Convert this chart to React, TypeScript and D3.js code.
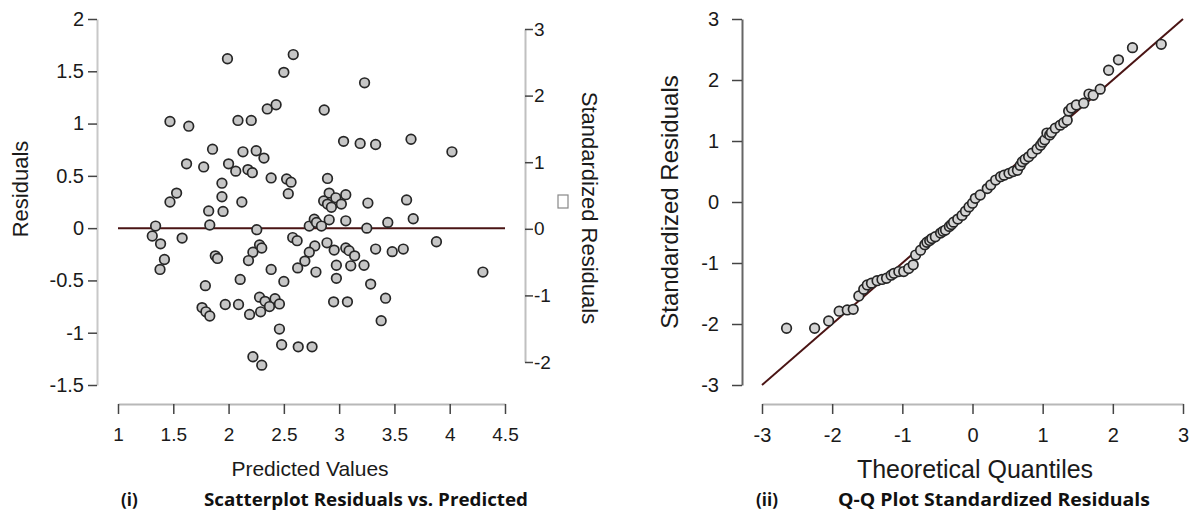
import React, { useEffect, useRef } from 'react';
import * as d3 from 'd3';

// (i) residuals vs predicted
const predicted = [
  1.99, 2.585, 2.5, 1.47, 1.64, 2.085, 2.205, 2.35, 2.43, 1.855, 2.13, 2.25, 2.32, 1.62, 1.775,
  2.0, 2.065, 2.175, 2.215, 2.385, 2.525, 2.565, 1.94, 1.53, 2.54, 1.47, 1.94, 2.12,
  3.23, 2.865, 3.04, 3.19, 3.33, 3.65, 4.02, 2.895,
  1.82, 1.95, 1.34, 1.83, 2.255, 2.73, 2.775, 2.795, 1.31, 1.385, 1.58, 2.58, 2.62, 2.28, 2.3,
  2.22, 2.18, 1.42, 1.38, 1.88, 1.9, 2.78, 2.73, 2.69, 2.625, 2.79, 2.385, 2.105, 2.5, 1.79,
  2.28, 2.33, 2.42, 2.37, 2.46, 2.29, 2.19, 1.97, 2.09, 1.76, 1.795, 1.83, 2.46, 2.48, 2.63,
  2.755, 2.22, 2.3,
  2.91, 3.06, 2.86, 2.895, 2.93, 2.97, 3.02, 3.26, 3.61, 3.67, 3.44, 3.25, 3.06, 2.91, 2.84,
  3.88, 2.89, 2.955, 3.06, 3.09, 3.14, 3.33, 3.48, 3.58, 2.975, 3.105, 3.225, 2.975, 3.285,
  2.95, 3.075, 3.42, 3.38, 4.3,
];
const residuals = [
  1.62, 1.66, 1.49, 1.02, 0.975, 1.03, 1.03, 1.14, 1.18, 0.755, 0.73, 0.74, 0.67, 0.615, 0.585,
  0.615, 0.545, 0.56, 0.53, 0.48, 0.47, 0.44, 0.43, 0.335, 0.33, 0.25, 0.3, 0.25,
  1.39, 1.13, 0.83, 0.81, 0.8, 0.85, 0.73, 0.475,
  0.165, 0.16, 0.02, 0.03, -0.015, 0.02, 0.085, 0.055, -0.075, -0.15, -0.095, -0.09, -0.12,
  -0.16, -0.19, -0.23, -0.31, -0.3, -0.395, -0.265, -0.29, -0.17, -0.23, -0.315, -0.38, -0.42,
  -0.395, -0.49, -0.51, -0.55, -0.66, -0.7, -0.675, -0.75, -0.725, -0.8, -0.825, -0.73, -0.73,
  -0.76, -0.8, -0.84, -0.965, -1.115, -1.135, -1.135, -1.23, -1.31,
  0.335, 0.32, 0.26, 0.23, 0.2, 0.29, 0.23, 0.24, 0.27, 0.09, 0.055, 0.0, 0.07, 0.08, 0.02,
  -0.13, -0.14, -0.21, -0.19, -0.215, -0.265, -0.2, -0.225, -0.2, -0.355, -0.36, -0.355, -0.48,
  -0.535, -0.705, -0.705, -0.67, -0.885, -0.42,
];

// (ii) q-q plot
const theoretical = [
  -2.65, -2.25, -2.05, -1.9, -1.785, -1.7, -1.62, -1.55, -1.5, -1.44, -1.36, -1.29, -1.225,
  -1.16, -1.12, -1.05, -0.98, -0.91, -0.845, -0.81, -0.74, -0.68, -0.65, -0.61, -0.58, -0.53,
  -0.455, -0.42, -0.385, -0.33, -0.3, -0.27, -0.21, -0.15, -0.1, -0.05, 0.0, 0.04, 0.11, 0.21,
  0.26, 0.33, 0.4, 0.45, 0.52, 0.58, 0.64, 0.68, 0.71, 0.75, 0.8, 0.85, 0.92, 0.97, 1.0, 1.03,
  1.06, 1.1, 1.125, 1.18, 1.25, 1.3, 1.35, 1.37, 1.41, 1.48, 1.585, 1.66, 1.72, 1.82, 1.94,
  2.08, 2.28, 2.69,
];
const stdResiduals = [
  -2.07, -2.07, -1.95, -1.79, -1.77, -1.76, -1.54, -1.43, -1.36, -1.33, -1.29, -1.27, -1.25,
  -1.2, -1.17, -1.14, -1.14, -1.09, -1.03, -0.87, -0.79, -0.7, -0.66, -0.63, -0.6, -0.57,
  -0.51, -0.48, -0.46, -0.4, -0.37, -0.33, -0.28, -0.22, -0.15, -0.08, -0.02, 0.06, 0.115, 0.22,
  0.28, 0.36, 0.415, 0.44, 0.47, 0.5, 0.52, 0.6, 0.66, 0.7, 0.74, 0.8, 0.87, 0.93, 0.98, 1.02,
  1.13, 1.1, 1.14, 1.21, 1.26, 1.3, 1.34, 1.49, 1.54, 1.59, 1.62, 1.77, 1.75, 1.85, 2.16,
  2.33, 2.53, 2.585,
];

const residTicks = [-1.5, -1, -0.5, 0, 0.5, 1, 1.5, 2];
const stdTicks = [-2, -1, 0, 1, 2, 3];
const predTicks = [1, 1.5, 2, 2.5, 3, 3.5, 4, 4.5];
const qqTicks = [-3, -2, -1, 0, 1, 2, 3];

const FONT = 'Liberation Sans, Arial, sans-serif';

export default function App() {
  const ref = useRef<SVGSVGElement>(null);

  useEffect(() => {
    const svg = d3.select(ref.current);
    svg.selectAll('*').remove();

    const styleAxis = (g: any, lineColor: string, fontSize: number) => {
      g.select('.domain').attr('stroke', lineColor).attr('stroke-width', 2);
      g.selectAll('.tick line').attr('stroke', '#444').attr('stroke-width', 1.5);
      g.selectAll('.tick text')
        .attr('fill', '#1a1a1a')
        .style('font-family', FONT)
        .style('font-size', fontSize + 'px');
    };
    const fmt = (d: any) => String(d);

    // ---------- left: residuals vs predicted ----------
    const x = d3.scaleLinear().domain([1, 4.5]).range([118, 505]);
    const y = d3.scaleLinear().domain([-1.5, 2]).range([385, 19]);
    const ys = d3.scaleLinear().domain([-2, 3]).range([362, 29]);

    svg.append('g')
      .attr('transform', 'translate(97,0)')
      .call(d3.axisLeft(y).tickValues(residTicks).tickSize(9).tickSizeOuter(0).tickPadding(4).tickFormat(fmt))
      .call(g => styleAxis(g, '#c8c8c8', 20));

    svg.append('g')
      .attr('transform', 'translate(0,404)')
      .call(d3.axisBottom(x).tickValues(predTicks).tickSize(10).tickSizeOuter(0).tickPadding(14).tickFormat(fmt))
      .call(g => styleAxis(g, '#b8b8b8', 19));

    svg.append('g')
      .attr('transform', 'translate(525,0)')
      .call(d3.axisRight(ys).tickValues(stdTicks).tickSize(8).tickSizeOuter(0).tickPadding(1).tickFormat(fmt))
      .call(g => styleAxis(g, '#c0c0c0', 19));

    svg.append('line')
      .attr('x1', x(1)).attr('x2', x(4.5))
      .attr('y1', y(0)).attr('y2', y(0))
      .attr('stroke', '#4a1414').attr('stroke-width', 2);

    svg.append('g')
      .selectAll('circle')
      .data(predicted.map((p, i) => [p, residuals[i]]))
      .join('circle')
      .attr('cx', d => x(d[0]))
      .attr('cy', d => y(d[1]))
      .attr('r', 4.8)
      .attr('fill', '#c6c6c6')
      .attr('stroke', '#262626')
      .attr('stroke-width', 1.7);

    svg.append('text')
      .attr('transform', 'translate(20,189) rotate(-90)')
      .attr('text-anchor', 'middle').attr('dominant-baseline', 'central')
      .style('font-family', FONT).style('font-size', '22px').attr('fill', '#1a1a1a')
      .text('Residuals');

    svg.append('text')
      .attr('transform', 'translate(589,208) rotate(90)')
      .attr('text-anchor', 'middle').attr('dominant-baseline', 'central')
      .style('font-family', FONT).style('font-size', '22px').attr('fill', '#1a1a1a')
      .text('Standardized Residuals');

    svg.append('rect')
      .attr('x', 558).attr('y', 195).attr('width', 10).attr('height', 13)
      .attr('fill', 'none').attr('stroke', '#888').attr('stroke-width', 1.2);

    svg.append('text')
      .attr('x', 310).attr('y', 476)
      .attr('text-anchor', 'middle')
      .style('font-family', FONT).style('font-size', '21px').attr('fill', '#1a1a1a')
      .text('Predicted Values');

    // ---------- right: Q-Q plot ----------
    const xq = d3.scaleLinear().domain([-3, 3]).range([762, 1183]);
    const yq = d3.scaleLinear().domain([-3, 3]).range([385, 19]);

    svg.append('g')
      .attr('transform', 'translate(742,0)')
      .call(d3.axisLeft(yq).tickValues(qqTicks).tickSize(10).tickSizeOuter(0).tickPadding(13).tickFormat(fmt))
      .call(g => styleAxis(g, '#666', 20));

    svg.append('g')
      .attr('transform', 'translate(0,404)')
      .call(d3.axisBottom(xq).tickValues(qqTicks).tickSize(10).tickSizeOuter(0).tickPadding(14).tickFormat(fmt))
      .call(g => styleAxis(g, '#b8b8b8', 20));

    svg.append('line')
      .attr('x1', xq(-3)).attr('y1', yq(-3))
      .attr('x2', xq(3)).attr('y2', yq(3))
      .attr('stroke', '#4a1414').attr('stroke-width', 2);

    svg.append('g')
      .selectAll('circle')
      .data(theoretical.map((t, i) => [t, stdResiduals[i]]))
      .join('circle')
      .attr('cx', d => xq(d[0]))
      .attr('cy', d => yq(d[1]))
      .attr('r', 4.8)
      .attr('fill', '#d4d4d4')
      .attr('stroke', '#262626')
      .attr('stroke-width', 1.7);

    svg.append('text')
      .attr('transform', 'translate(669,202) rotate(-90)')
      .attr('text-anchor', 'middle').attr('dominant-baseline', 'central')
      .style('font-family', FONT).style('font-size', '24px').attr('fill', '#1a1a1a')
      .text('Standardized Residuals');

    svg.append('text')
      .attr('x', 975).attr('y', 478)
      .attr('text-anchor', 'middle')
      .style('font-family', FONT).style('font-size', '25px').attr('fill', '#1a1a1a')
      .text('Theoretical Quantiles');

    // ---------- captions ----------
    const caption = (xPos: number, txt: string, len?: number) => {
      const t = svg.append('text')
        .attr('x', xPos).attr('y', 506)
        .style('font-family', 'Open Sans, Noto Sans, sans-serif')
        .style('font-size', '17px').style('font-weight', 700).attr('fill', '#111')
        .text(txt);
      if (len) t.attr('textLength', len).attr('lengthAdjust', 'spacingAndGlyphs');
    };
    caption(121, '(i)');
    caption(204, 'Scatterplot Residuals vs. Predicted', 324);
    caption(756, '(ii)');
    caption(838, 'Q-Q Plot Standardized Residuals', 312);
  }, []);

  return (
    <svg
      ref={ref}
      width={1195}
      height={518}
      style={{ position: 'absolute', left: 0, top: 0, background: '#fff' }}
    />
  );
}
